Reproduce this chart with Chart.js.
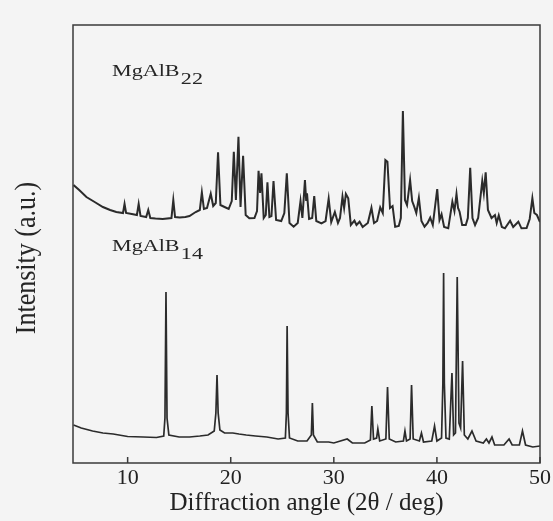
<!DOCTYPE html>
<html><head><meta charset="utf-8">
<script src="https://cdn.jsdelivr.net/npm/chart.js@4.4.1/dist/chart.umd.min.js"></script>
<style>html,body{margin:0;padding:0;background:#f4f4f4;}canvas{display:block;}</style>
</head><body>
<canvas id="c" width="553" height="521"></canvas>
<script>
// ---- data ----
const xTicks = [10, 20, 30, 40, 50];
const xTitle = 'Diffraction angle (2θ / deg)';
const yTitle = 'Intensity (a.u.)';
const labelMain = ['MgAlB', 'MgAlB'];
const labelSub = ['22', '14'];

// MgAlB22 (upper trace): 2θ and intensity (a.u.)
const b22X = [4.75,5.3,6.0,6.8,7.6,8.3,8.9,9.55,9.7,9.85,10.4,10.9,11.07,11.25,11.8,12.0,12.2,12.7,13.4,14.25,14.43,14.6,15.05,15.6,16.0,16.6,17.0,17.2,17.4,17.7,18.06,18.3,18.55,18.77,19.0,19.4,19.8,20.1,20.3,20.5,20.75,20.95,21.2,21.45,21.8,22.3,22.55,22.7,22.85,22.98,23.2,23.4,23.56,23.75,23.95,24.15,24.4,24.9,25.2,25.44,25.7,26.1,26.5,26.77,26.95,27.2,27.32,27.4,27.6,27.9,28.1,28.3,28.8,29.2,29.5,29.75,30.1,30.4,30.6,30.84,31.0,31.17,31.4,31.65,32.0,32.2,32.5,32.8,33.3,33.65,33.9,34.2,34.5,34.75,35.0,35.2,35.45,35.7,35.95,36.3,36.5,36.7,36.9,37.1,37.4,37.6,37.8,38.0,38.25,38.5,38.8,39.1,39.35,39.6,40.03,40.25,40.45,40.7,41.1,41.5,41.7,41.9,42.05,42.2,42.45,42.8,43.0,43.23,43.45,43.7,44.0,44.4,44.55,44.73,44.95,45.3,45.63,45.8,46.0,46.3,46.6,47.1,47.4,47.9,48.2,48.7,49.0,49.26,49.45,49.7,50.0];
const b22Y = [278,273,266,261,256,253,251,250,259,250,249,248,259,247,246,253,245,244.5,244,245,263,246,245.5,246,247,251,253,270.7,254,255,269.3,257,260,310.7,258,256,254,262,311.3,263,326.3,256,307.3,248,244.7,245,252,292.3,270,289.7,245,248,280.7,246,247,282,243,242,250,289.7,240,236.3,240,262,245,283,262,269.7,244,245,267,242,239.7,242,264.3,241,251,240,245,266.3,255,269,264.7,238,242.3,238,241.3,236,240,255.3,240,242,255.7,250,303,301.3,255,257,236.3,237,245,352,263,258,283,262,256.3,250,265.3,242,236.3,240,245.3,238,274,243,248.7,236,234.7,261.3,252,269,255,251.3,238,238,245,295.3,245,238,245,282,270,290.7,253,245,248,240,247.7,236,234.7,242.3,236,241.3,234.7,235,244,264.7,250,248,241];

// MgAlB14 (lower trace)
const b14X = [4.75,5.5,6.6,7.6,8.6,10.0,11.5,12.8,13.5,13.62,13.72,13.82,14.0,15.0,16.0,17.0,17.8,18.4,18.56,18.67,18.78,18.95,19.4,20.2,20.8,21.5,22.4,23.5,24.6,25.3,25.4,25.47,25.56,25.7,26.5,27.4,27.82,27.92,28.02,28.4,29.5,30.0,31.3,31.8,33.0,33.55,33.69,33.85,34.15,34.27,34.45,35.05,35.21,35.38,36.0,36.75,36.9,37.05,37.4,37.54,37.7,38.3,38.5,38.7,39.5,39.77,40.0,40.45,40.58,40.65,40.72,40.88,41.2,41.46,41.62,41.8,41.97,42.14,42.3,42.49,42.66,43.0,43.4,43.8,44.5,44.8,45.05,45.34,45.6,46.5,47.0,47.3,48.0,48.3,48.6,49.3,50.0];
const b14Y = [38,35,32,30,29,26.5,26,25.5,27,45,171,45,28,26,26,27,28,32,50,88,50,33,30,30,29,28,27,26,24,25,50,137,50,25,22,22,28,60,28,21,21,20,24,20,20,23,57,24,25,34,22,24,76,24,21,22,32,22,24,78,24,22,30,21,22,37,22,25,80,190,80,25,24,90,28,30,186,40,35,102,28,24,32,22,20,24,20,26,18,18,24,18,18,32,18,16,17];

const pts22 = b22X.map((x, i) => ({x, y: b22Y[i]}));
const pts14 = b14X.map((x, i) => ({x, y: b14Y[i]}));

const SERIF = '"Liberation Serif", "Times New Roman", serif';

const decor = {
  id: 'decor',
  beforeDraw(chart) {
    const ctx = chart.ctx;
    ctx.save();
    ctx.fillStyle = '#f4f4f4';
    ctx.fillRect(0, 0, chart.width, chart.height);
    ctx.restore();
  },
  afterDraw(chart) {
    const {ctx, chartArea: a, scales: {x}} = chart;
    ctx.save();
    ctx.strokeStyle = '#3a3a3a';
    ctx.lineWidth = 1.5;
    ctx.strokeRect(a.left, a.top, a.right - a.left, a.bottom - a.top);
    ctx.beginPath();
    xTicks.forEach(v => {
      const px = x.getPixelForValue(v);
      ctx.moveTo(px, a.bottom);
      ctx.lineTo(px, a.bottom - 6);
    });
    ctx.stroke();

    // series labels
    ctx.fillStyle = '#262626';
    ctx.textBaseline = 'alphabetic';
    ctx.textAlign = 'left';
    const pos = [[a.left + 39, 76], [a.left + 39, 251]];
    pos.forEach((p, i) => {
      ctx.save();
      ctx.translate(p[0], p[1]);
      ctx.scale(1.3, 1);
      ctx.font = '17px ' + SERIF;
      ctx.fillText(labelMain[i], 0, 0);
      const w = ctx.measureText(labelMain[i]).width;
      ctx.fillText(labelSub[i], w + 1, 8);
      ctx.restore();
    });

    // y title
    ctx.save();
    ctx.translate(27, 258);
    ctx.rotate(-Math.PI / 2);
    ctx.scale(1, 1.15);
    ctx.font = '26px ' + SERIF;
    ctx.textAlign = 'center';
    ctx.textBaseline = 'middle';
    ctx.fillText(yTitle, 0, 0);
    ctx.restore();
    ctx.restore();
  }
};

new Chart(document.getElementById('c'), {
  type: 'line',
  data: {
    datasets: [
      {label: 'MgAlB22', data: pts22, borderColor: '#2b2b2b', borderWidth: 2, pointRadius: 0, tension: 0, fill: false},
      {label: 'MgAlB14', data: pts14, borderColor: '#2b2b2b', borderWidth: 1.7, pointRadius: 0, tension: 0, fill: false}
    ]
  },
  options: {
    responsive: false,
    animation: false,
    layout: {padding: {left: 73, top: 25, right: 12.5, bottom: 0}},
    plugins: {legend: {display: false}, tooltip: {enabled: false}},
    scales: {
      x: {
        type: 'linear', min: 4.7, max: 50,
        afterBuildTicks: s => { s.ticks = xTicks.map(v => ({value: v})); },
        afterFit: s => { s.height = 58; },
        grid: {display: false, drawTicks: false},
        border: {display: false},
        ticks: {font: {family: SERIF, size: 22}, color: '#222', padding: 2, maxRotation: 0, autoSkip: false},
        title: {display: true, text: xTitle, font: {family: SERIF, size: 25}, color: '#222', padding: {top: 0, bottom: 3}}
      },
      y: {display: false, min: 0, max: 438}
    }
  },
  plugins: [decor]
});
</script>
</body></html>
